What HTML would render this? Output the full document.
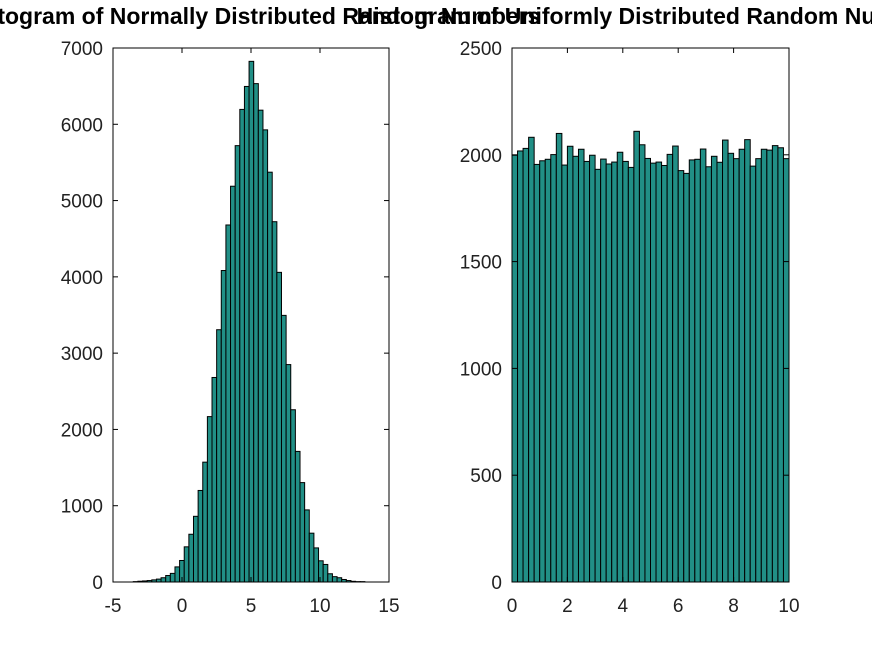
<!DOCTYPE html>
<html><head><meta charset="utf-8"><style>
body{margin:0;background:#fff}
svg text{font-family:"Liberation Sans",sans-serif}
</style></head><body>
<svg id="c" width="872" height="654" xmlns="http://www.w3.org/2000/svg"></svg>
<script>
const normalCounts=[5,10,14,19,28,38,56,85,113,198,282,461,626,861,1200,1571,2168,2681,3307,4083,4680,5188,5720,6195,6496,6825,6533,6185,5927,5372,4723,4059,3495,2850,2258,1712,1303,945,640,447,278,230,108,70,56,33,19,9,5,5];
const normalRange=[-3.53,13.25];
const uniformCounts=[1998,2018,2030,2082,1955,1972,1979,2001,2100,1952,2040,1993,2026,1969,1998,1932,1980,1957,1966,2012,1969,1941,2110,2047,1983,1961,1966,1950,2002,2041,1926,1913,1976,1979,2027,1944,1993,1965,2069,2007,1982,2026,2071,1947,1982,2026,2022,2043,2033,1982];
const uniformRange=[0,10];
const leftXTicks=[-5,0,5,10,15];
const leftYTicks=[0,1000,2000,3000,4000,5000,6000,7000];
const rightXTicks=[0,2,4,6,8,10];
const rightYTicks=[0,500,1000,1500,2000,2500];
const titles=["Histogram of Normally Distributed Random Numbers","Histogram of Uniformly Distributed Random Numbers"];

const svg=document.getElementById('c');
const NS='http://www.w3.org/2000/svg';
function mk(t,a,p){const e=document.createElementNS(NS,t);for(const k in a)e.setAttribute(k,a[k]);(p||svg).appendChild(e);return e;}

function panel(id,x0,x1,xmin,xmax,ymax,counts,range,xt,yt){
  const top=48,bot=582;
  const g=mk('g',{});
  
  
  const X=v=>x0+(v-xmin)/(xmax-xmin)*(x1-x0);
  const Y=v=>bot-v/ymax*(bot-top);
  const w=(range[1]-range[0])/counts.length;
  counts.forEach((c,i)=>{
    const a=X(range[0]+i*w),b=X(range[0]+(i+1)*w);
    const r=mk('rect',{x:a,y:Y(c),width:b-a,height:bot-Y(c),fill:'#218f86',stroke:'#000','stroke-width':1},g);
    
    
  });
  mk('rect',{x:x0,y:top,width:x1-x0,height:bot-top,fill:'none',stroke:'#000','stroke-width':1},g);
  xt.forEach(v=>{
    const x=X(v);
    mk('line',{x1:x,x2:x,y1:bot,y2:bot-5,stroke:'#000'},g);
    mk('line',{x1:x,x2:x,y1:top,y2:top+5,stroke:'#000'},g);
    const t=mk('text',{x:x,y:bot+30,'font-size':19,'text-anchor':'middle',fill:'#222'},g);
    t.textContent=v;
    
    
  });
  yt.forEach(v=>{
    const y=Y(v);
    mk('line',{x1:x0,x2:x0+5,y1:y,y2:y,stroke:'#000'},g);
    mk('line',{x1:x1,x2:x1-5,y1:y,y2:y,stroke:'#000'},g);
    const t=mk('text',{x:x0-10,y:y+7,'font-size':19,'text-anchor':'end',fill:'#222'},g);
    t.textContent=v;
    
    
  });
  return (x0+x1)/2;
}
const c1=panel('normal',113,389,-5,15,7000,normalCounts,normalRange,leftXTicks,leftYTicks);
const c2=panel('uniform',512,789,0,10,2500,uniformCounts,uniformRange,rightXTicks,rightYTicks);
[[c1,titles[0],'normal-title'],[c2,titles[1],'uniform-title']].forEach(([cx,s,n])=>{
  const t=mk('text',{x:cx,y:24,'font-size':23,'font-weight':'bold','text-anchor':'middle',fill:'#000'});
  t.textContent=s;
  
  
});
</script>
</body></html>
